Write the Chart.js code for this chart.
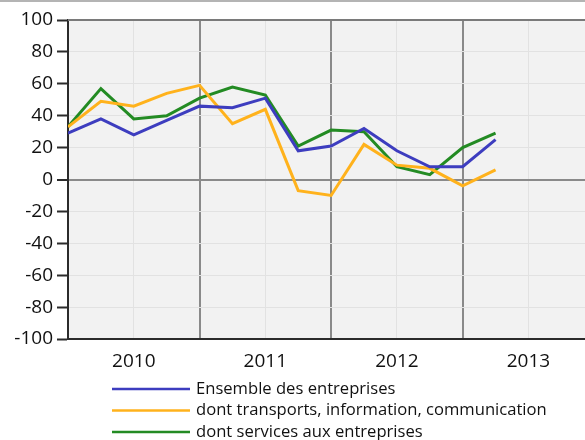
<!DOCTYPE html>
<html>
<head>
<meta charset="utf-8">
<script src="https://cdn.jsdelivr.net/npm/chart.js@4.4.0/dist/chart.umd.min.js"></script>
<style>
    html, body { margin: 0; padding: 0; background: #fff; }
    #graf { display: block; }
</style>
</head>
<body>
<canvas id="graf" width="585" height="440"></canvas>
<script>
// trimestres 2010T1 .. 2013T2
var trimestres = ['2010T1', '2010T2', '2010T3', '2010T4', '2011T1', '2011T2', '2011T3', '2011T4',
    '2012T1', '2012T2', '2012T3', '2012T4', '2013T1', '2013T2'];
var annees = ['2010', '2011', '2012', '2013'];
var ticksY = [-100, -80, -60, -40, -20, 0, 20, 40, 60, 80, 100];

var ensemble = [29, 38, 28, 37, 46, 45, 51, 18, 21, 32, 18, 8, 8, 25];
var transports = [33, 49, 46, 54, 59, 35, 44, -7, -10, 22, 9, 7, -4, 6];
var services = [33, 57, 38, 40, 51, 58, 53, 21, 31, 30, 8, 3, 20, 29];

var nomsSeries = ['Ensemble des entreprises', 'dont transports, information, communication', 'dont services aux entreprises'];
var couleurs = ['#3d3dbf', '#ffb21c', '#238b23'];

var police = '"Open Sans", "Liberation Sans", Arial, sans-serif';

function pontos(valores) {
    return valores.map(function (v, i) { return { x: i, y: v }; });
}

const fundo = {
    id: 'fundo',
    beforeDraw(chart) {
        const ctx = chart.ctx;
        const a = chart.chartArea;
        ctx.save();
        ctx.fillStyle = '#ffffff';
        ctx.fillRect(0, 0, chart.width, chart.height);
        ctx.fillStyle = '#f2f2f2';
        ctx.fillRect(a.left, a.top, a.right - a.left, a.bottom - a.top);
        ctx.fillStyle = '#b4b4b4';
        ctx.fillRect(0, 0, chart.width, 2);
        ctx.restore();
    },
    afterDraw(chart) {
        const ctx = chart.ctx;
        const a = chart.chartArea;
        ctx.save();
        // bord du haut
        ctx.strokeStyle = '#7a7a7a';
        ctx.lineWidth = 2;
        ctx.beginPath();
        ctx.moveTo(a.left, a.top);
        ctx.lineTo(a.right, a.top);
        ctx.stroke();
        // legende
        ctx.font = '16.6px ' + police;
        ctx.textBaseline = 'middle';
        ctx.fillStyle = '#111';
        chart.data.datasets.forEach(function (ds, i) {
            const y = 389 + i * 21.5;
            ctx.strokeStyle = ds.borderColor;
            ctx.lineWidth = 2.5;
            ctx.beginPath();
            ctx.moveTo(112, y);
            ctx.lineTo(190, y);
            ctx.stroke();
            ctx.fillText(ds.label, 196, y);
        });
        ctx.restore();
    }
};

const config = {
    type: 'line',
    data: {
        datasets: [
            { label: nomsSeries[0], data: pontos(ensemble), borderColor: couleurs[0], backgroundColor: couleurs[0] },
            { label: nomsSeries[1], data: pontos(transports), borderColor: couleurs[1], backgroundColor: couleurs[1] },
            { label: nomsSeries[2], data: pontos(services), borderColor: couleurs[2], backgroundColor: couleurs[2] }
        ]
    },
    options: {
        responsive: false,
        animation: false,
        devicePixelRatio: 1,
        elements: {
            line: { borderWidth: 3, tension: 0, fill: false },
            point: { radius: 0, hoverRadius: 0 }
        },
        layout: {
            padding: { top: 20, left: 0, right: 0, bottom: 0 }
        },
        plugins: {
            legend: { display: false },
            tooltip: { enabled: false }
        },
        scales: {
            x: {
                type: 'linear',
                min: 0,
                max: 15.72,
                afterBuildTicks: (scale) => {
                    scale.ticks = [0, 2, 4, 6, 8, 10, 12, 14].map((v) => ({ value: v }));
                },
                afterFit: (scale) => { scale.height = 101; },
                grid: {
                    drawTicks: false,
                    color: (c) => {
                        const v = c.tick ? c.tick.value : 0;
                        if (v === 0) return 'rgba(0,0,0,0)';
                        return v % 4 === 0 ? '#8a8a8a' : '#e2e2e2';
                    },
                    lineWidth: (c) => (c.tick && c.tick.value % 4 === 0 ? 2 : 1)
                },
                border: { color: '#2b2b2b', width: 2 },
                ticks: {
                    autoSkip: false,
                    maxRotation: 0,
                    padding: 11,
                    color: '#111',
                    font: { family: police, size: 19 },
                    callback: (value) => {
                        const k = (value - 2) / 4;
                        return Number.isInteger(k) ? annees[k] : '';
                    }
                }
            },
            y: {
                min: -100,
                max: 100,
                afterBuildTicks: (scale) => {
                    scale.ticks = ticksY.map((v) => ({ value: v }));
                },
                afterFit: (scale) => { scale.width = 68; },
                grid: {
                    tickLength: 11,
                    tickColor: '#2b2b2b',
                    tickWidth: 2,
                    color: (c) => (c.tick && c.tick.value === 0 ? '#8a8a8a' : '#e2e2e2'),
                    lineWidth: (c) => (c.tick && c.tick.value === 0 ? 2 : 1)
                },
                border: { color: '#2b2b2b', width: 2 },
                ticks: {
                    padding: 4,
                    color: '#111',
                    font: { family: police, size: 19 }
                }
            }
        }
    },
    plugins: [fundo]
};

const myChart = new Chart(document.getElementById('graf'), config);
</script>
</body>
</html>
